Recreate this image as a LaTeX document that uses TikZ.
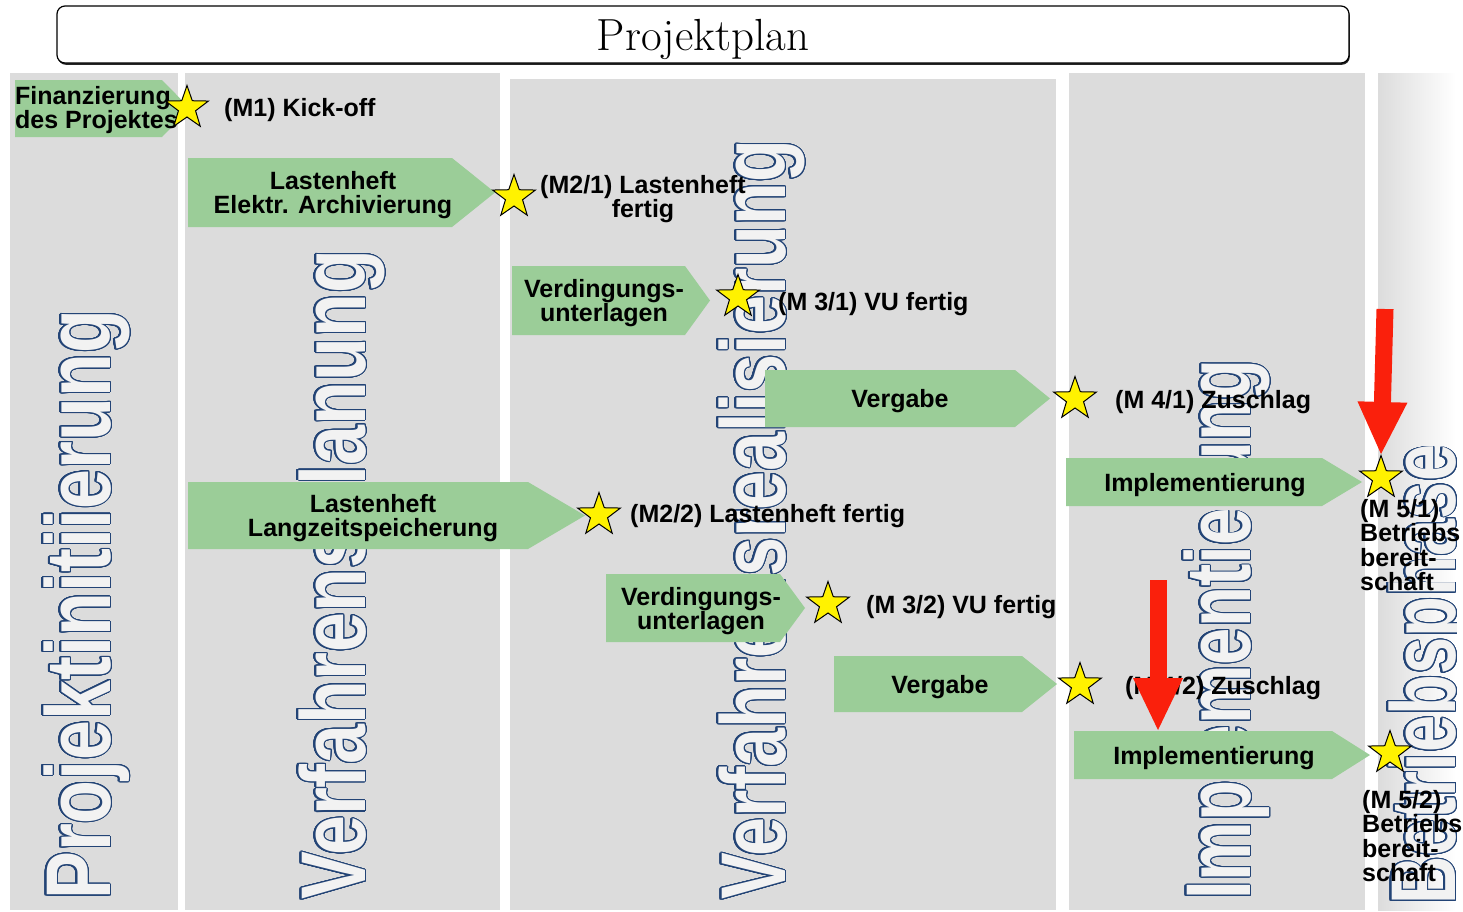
\documentclass[tikz,border=0pt]{standalone}
\usepackage{fontspec}
\usepackage{graphicx}
\usepackage{xcolor}
\usepackage{contour}
\usetikzlibrary{shapes.geometric}
\usetikzlibrary{arrows.meta}
\usetikzlibrary{shadows}
\newfontfamily\labelfont{Liberation Sans}
\definecolor{colgray}{RGB}{220,220,220}
\definecolor{workgreen}{RGB}{155,205,152}
\definecolor{hintred}{RGB}{250,32,12}
\definecolor{phaseline}{RGB}{35,68,118}
\definecolor{phasefill}{RGB}{242,242,242}
\contourlength{1.3pt}
\contournumber{32}
\newcommand{\phaseword}[2]{\resizebox{#1}{\height}{\fontsize{92}{92}\selectfont\labelfont\bfseries
  \color{phasefill}\contour{phaseline}{#2}}}
\tikzstyle{titlebox}=[draw, fill=white, rounded corners=8pt, line width=1.2pt, minimum width=1292pt, minimum height=57pt, text depth=0pt, font=\fontsize{45}{45}\selectfont, drop shadow={shadow xshift=0.8pt, shadow yshift=-1.8pt, fill=black, opacity=0.85}]
\tikzstyle{column}=[fill=colgray]
\tikzstyle{phasename}=[inner sep=0pt, rotate=90, anchor=base west]
\tikzstyle{work}=[fill=workgreen]
\tikzstyle{worktext}=[inner sep=0pt, align=center, font=\labelfont\bfseries\fontsize{25}{24.5}\selectfont]
\tikzstyle{mlabel}=[worktext, anchor=west]
\tikzstyle{milestone}=[star, star points=5, star point ratio=2.5, minimum size=45pt, inner sep=0pt, fill=yellow, draw=black, line width=1pt]
\tikzstyle{hint}=[draw=hintred, line width=17pt, -{Triangle[width=50pt, length=52pt, line width=0pt]}]

\begin{document}
\begin{tikzpicture}[x=1pt, y=-1pt]
    \useasboundingbox (0,0) rectangle (1463,911);
    \node[titlebox] (title) at (703,34.5) {Projektplan};
    % phases
    \fill[column] (10,73) rectangle (178,910);
    \fill[column] (185,73) rectangle (500,910);
    \fill[column] (510,79) rectangle (1056,910);
    \fill[column] (1069,73) rectangle (1365,910);
    \shade[left color=colgray, right color=white] (1378,73) rectangle (1456,910);
    \node[phasename] (pInit) at (110,900) {\phaseword{590pt}{Projektinitiierung}};
    \node[phasename] (pPlan) at (365,900) {\phaseword{650pt}{Verfahrensplanung}};
    \node[phasename] (pReal) at (785,900) {\phaseword{760pt}{Verfahrensrealisierung}};
    \node[phasename] (pImpl) at (1250,900) {\phaseword{540pt}{Implementierung}};
    \begin{scope}
        \clip (1378,73) rectangle (1456,910);
        \node[phasename] (pBetr) at (1455,905) {\phaseword{460pt}{Betriebsphase}};
    \end{scope}
    % work packages
    \fill[work] (15,80) -- (162,80) -- (190,108.5) -- (162,137) -- (15,137) -- cycle;
    \node[worktext, anchor=west, align=left] (fin) at (15,110) {Finanzierung\\des Projektes};
    \fill[work] (188,158) -- (452,158) -- (495,192.5) -- (452,227) -- (188,227) -- cycle;
    \node[worktext] (lastA) at (333,195) {Lastenheft\\Elektr. Archivierung};
    \fill[work] (512,266) -- (685,266) -- (710,300.5) -- (685,335) -- (512,335) -- cycle;
    \node[worktext] (verdA) at (604,303) {Verdingungs-\\unterlagen};
    \fill[work] (765,370) -- (1015,370) -- (1050,398.5) -- (1015,427) -- (765,427) -- cycle;
    \node[worktext] (vergA) at (900,401) {Vergabe};
    \fill[work] (1066,458) -- (1322,458) -- (1362,482) -- (1322,506) -- (1066,506) -- cycle;
    \node[worktext] (implA) at (1205,485) {Implementierung};
    \fill[work] (188,482) -- (528,482) -- (585,515.5) -- (528,549) -- (188,549) -- cycle;
    \node[worktext] (lastB) at (373,518) {Lastenheft\\Langzeitspeicherung};
    \fill[work] (606,574) -- (780,574) -- (805,608) -- (780,642) -- (606,642) -- cycle;
    \node[worktext] (verdB) at (701,611) {Verdingungs-\\unterlagen};
    \fill[work] (834,656) -- (1022,656) -- (1057,684) -- (1022,712) -- (834,712) -- cycle;
    \node[worktext] (vergB) at (940,687) {Vergabe};
    \fill[work] (1074,731) -- (1332,731) -- (1370,755) -- (1332,779) -- (1074,779) -- cycle;
    \node[worktext] (implB) at (1214,758) {Implementierung};
    % milestones
    \node[mlabel] (lb1) at (224,110) {(M1) Kick-off};
    \node[worktext] (lb21) at (643,199) {(M2/1) Lastenheft\\fertig};
    \node[mlabel] (lb31) at (778,304) {(M 3/1) VU fertig};
    \node[mlabel] (lb41) at (1115,402) {(M 4/1) Zuschlag};
    \node[worktext, anchor=north west, align=left] (lb51) at (1360,499) {(M 5/1)\\Betriebs\\bereit-\\schaft};
    \node[mlabel] (lb22) at (630,516) {(M2/2) Lastenheft fertig};
    \node[mlabel] (lb32) at (866,607) {(M 3/2) VU fertig};
    \node[mlabel] (lb42) at (1125,688) {(M 4/2) Zuschlag};
    \node[worktext, anchor=north west, align=left] (lb52) at (1362,790) {(M 5/2)\\Betriebs\\bereit-\\schaft};
    \node[milestone] (ms1) at (187,108) {};
    \node[milestone] (ms21) at (514,197) {};
    \node[milestone] (ms31) at (738,297) {};
    \node[milestone] (ms41) at (1075,399) {};
    \node[milestone] (ms51) at (1381,478) {};
    \node[milestone] (ms22) at (599,515) {};
    \node[milestone] (ms32) at (828,604) {};
    \node[milestone] (ms42) at (1080,685) {};
    \node[milestone] (ms52) at (1390,753) {};
    % hints
    \coordinate (r1) at (1385,309);
    \coordinate (r2) at (1158,580);
    \coordinate (r2end) at (1158,730);
    \draw[hint] (r1) -- (ms51.north);
    \draw[hint] (r2) -- (r2end);
\end{tikzpicture}
\end{document}
